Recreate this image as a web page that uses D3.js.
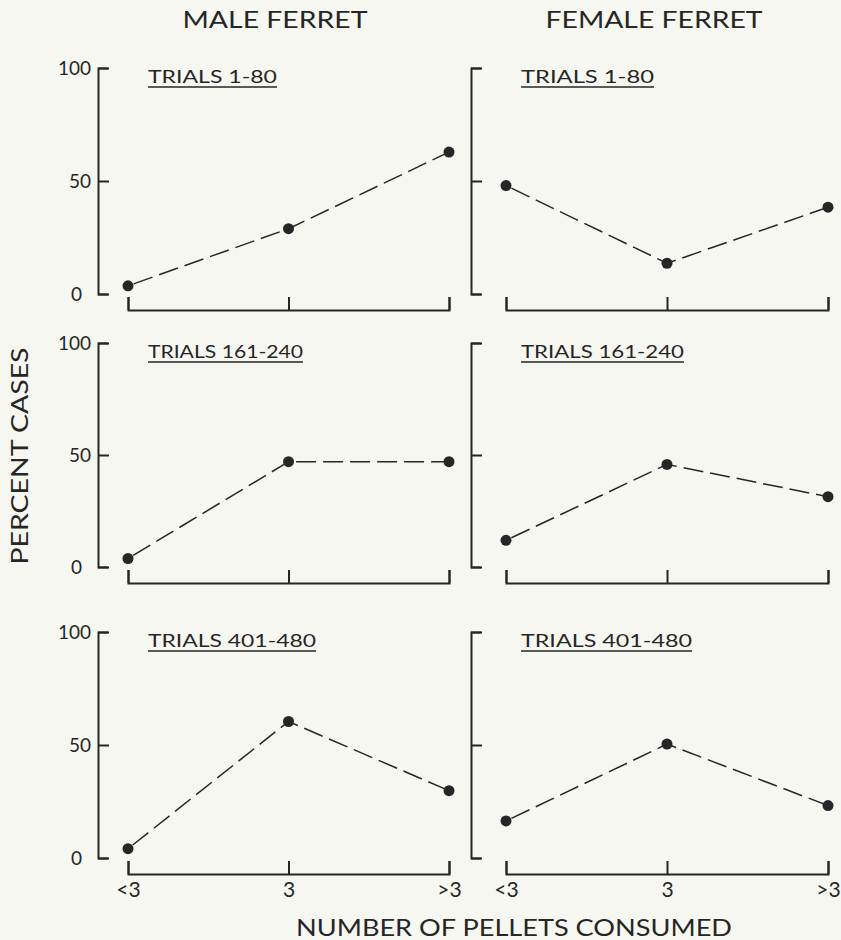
<!DOCTYPE html>
<html>
<head>
<meta charset="utf-8">
<script src="https://cdn.jsdelivr.net/npm/d3@7"></script>
<style>
  html, body { margin: 0; padding: 0; background: #f7f7f1; }
  svg { display: block; }
  text { font-family: Lato, "DejaVu Sans", sans-serif; fill: #262626; }
</style>
</head>
<body>
<svg id="chart"></svg>
<script>
// data (percent of cases)
const categories = ["<3", "3", ">3"];
const sexes = ["MALE FERRET", "FEMALE FERRET"];
const trialLabels = ["TRIALS 1-80", "TRIALS 161-240", "TRIALS 401-480"];
const maleValues = [
  [3.6, 28.9, 62.8],
  [3.8, 47, 47],
  [4.1, 60.4, 29.8],
];
const femaleValues = [
  [48, 13.6, 38.4],
  [11.9, 45.8, 31.4],
  [16.4, 50.4, 23.2],
];
const yTicks = [0, 50, 100];

/***********************
 * layout
 ************************/
const width = 841;
const height = 940;
const ink = "#262626";
const font = "Lato, 'DejaVu Sans', sans-serif";

// one entry per column / row of panels; the lettering in the original is
// wider than any installed font, so text is stretched to the measured widths
const columns = [
  { axisX: 98, x0: 128, x1: 449, titleX: 275, titleW: 185, labelW: [129, 155, 168], values: maleValues },
  { axisX: 471, x0: 506, x1: 828, titleX: 654, titleW: 217, labelW: [133, 163, 171], values: femaleValues },
];
const rows = [
  { top: 68, bottom: 294 },
  { top: 343, bottom: 567 },
  { top: 632, bottom: 858 },
];
const xAxisGap = 16;

const svg = d3
  .select("#chart")
  .attr("width", width)
  .attr("height", height)
  .attr("viewBox", [0, 0, width, height]);

// column titles
svg
  .selectAll("text.title")
  .data(columns)
  .join("text")
  .attr("class", "title")
  .attr("x", (d) => d.titleX)
  .attr("y", 28)
  .attr("text-anchor", "middle")
  .style("font-size", "24px")
  .attr("textLength", (d) => d.titleW)
  .attr("lengthAdjust", "spacingAndGlyphs")
  .text((d, i) => sexes[i]);

columns.forEach((col, ci) => {
  rows.forEach((row, ri) => {
    const x = d3.scalePoint().domain(categories).range([col.x0, col.x1]);
    const y = d3.scaleLinear().domain([0, 100]).range([row.bottom, row.top]);
    const g = svg.append("g");

    // y axis: bracket with inward ticks
    const yAxis = d3
      .axisRight(y)
      .tickValues(yTicks)
      .tickSize(11)
      .tickSizeOuter(10)
      .tickFormat(d3.format("d"));
    const ya = g
      .append("g")
      .attr("transform", `translate(${col.axisX},0)`)
      .call(yAxis);
    ya.selectAll("path, line").attr("stroke", ink).attr("stroke-width", 2);
    ya.selectAll("text")
      .attr("x", (d) => (d === 0 ? -16 : -7))
      .attr("text-anchor", "end")
      .style("font-size", "19px")
      .style("font-family", font)
      .attr("fill", ink)
      .attr("opacity", ci === 0 ? 1 : 0);

    // x axis: separate bracket below the panel, ticks pointing up
    const xAxis = d3.axisTop(x).tickSize(13).tickSizeOuter(13);
    const xa = g
      .append("g")
      .attr("transform", `translate(0,${row.bottom + xAxisGap})`)
      .call(xAxis);
    xa.selectAll("path, line").attr("stroke", ink).attr("stroke-width", 2);
    xa.selectAll("text")
      .attr("y", 8)
      .attr("dy", "0.71em")
      .style("font-size", "21px")
      .style("font-family", font)
      .attr("fill", ink)
      .attr("opacity", ri === rows.length - 1 ? 1 : 0);

    // underlined trial label
    const lx = col.axisX + 50;
    g.append("text")
      .attr("x", lx)
      .attr("y", row.top + 15)
      .style("font-size", "18px")
      .attr("textLength", col.labelW[ri])
      .attr("lengthAdjust", "spacingAndGlyphs")
      .text(trialLabels[ri]);
    g.append("line")
      .attr("x1", lx)
      .attr("x2", lx + col.labelW[ri])
      .attr("y1", row.top + 19)
      .attr("y2", row.top + 19)
      .attr("stroke", ink)
      .attr("stroke-width", 1.6);

    // dashed line + dots
    const pts = categories.map((c, k) => [c, col.values[ri][k]]);
    g.append("path")
      .datum(pts)
      .attr("fill", "none")
      .attr("stroke", ink)
      .attr("stroke-width", 1.5)
      .attr("stroke-dasharray", "20,7")
      .attr("stroke-dashoffset", -6)
      .attr(
        "d",
        d3
          .line()
          .x((d) => x(d[0]))
          .y((d) => y(d[1]))
      );
    g.selectAll("circle")
      .data(pts)
      .join("circle")
      .attr("cx", (d) => x(d[0]))
      .attr("cy", (d) => y(d[1]))
      .attr("r", 5.5)
      .attr("fill", ink);
  });
});

// axis titles
svg
  .append("text")
  .attr("transform", "translate(28,456) rotate(-90)")
  .attr("text-anchor", "middle")
  .style("font-size", "24px")
  .attr("textLength", 217)
  .attr("lengthAdjust", "spacingAndGlyphs")
  .text("PERCENT CASES");

svg
  .append("text")
  .attr("x", 514)
  .attr("y", 936)
  .attr("text-anchor", "middle")
  .style("font-size", "23px")
  .attr("textLength", 436)
  .attr("lengthAdjust", "spacingAndGlyphs")
  .text("NUMBER OF PELLETS CONSUMED");
</script>
</body>
</html>
